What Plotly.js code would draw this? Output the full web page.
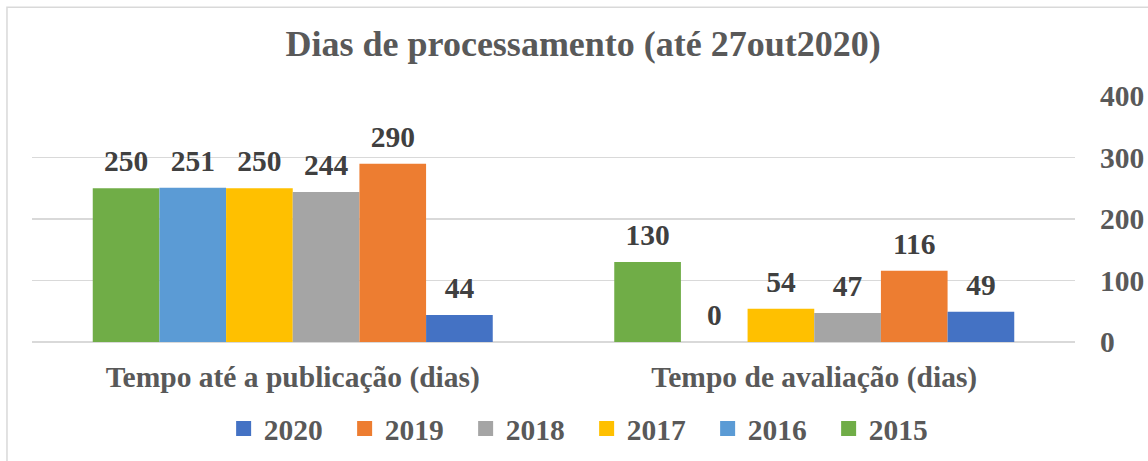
<!DOCTYPE html>
<html>
<head>
<meta charset="utf-8">
<script src="https://cdn.plot.ly/plotly-3.0.1.min.js"></script>
<style>html,body{margin:0;padding:0;background:#fff;}#chart{width:1148px;height:461px;}</style>
</head>
<body>
<div id="chart"></div>
<script>
const categories = ['Tempo até a publicação (dias)', 'Tempo de avaliação (dias)'];
const years = ['2015', '2016', '2017', '2018', '2019', '2020'];
const v2015 = [250, 130];
const v2016 = [251, 0];
const v2017 = [250, 54];
const v2018 = [244, 47];
const v2019 = [290, 116];
const v2020 = [44, 49];
const seriesValues = [v2015, v2016, v2017, v2018, v2019, v2020];
const colors = ['#70AD47', '#5B9BD5', '#FFC000', '#A5A5A5', '#ED7D31', '#4472C4'];
const yTicks = [0, 100, 200, 300, 400];

const FONT = 'Liberation Serif, Times New Roman, serif';

const traces = [];
years.forEach((yr, i) => {
  traces.push({
    type: 'bar',
    name: yr,
    x: categories,
    y: seriesValues[i],
    offsetgroup: 'g' + i,
    marker: {color: colors[i]},
    showlegend: false,
    hoverinfo: 'none'
  });
});
// data labels, grouped like the bars
years.forEach((yr, i) => {
  traces.push({
    type: 'scatter',
    mode: 'markers+text',
    name: yr,
    x: categories,
    y: seriesValues[i],
    offsetgroup: 'g' + i,
    text: seriesValues[i].map(String),
    textposition: 'top center',
    textfont: {family: FONT, size: 29.5, color: '#404040', weight: 'bold'},
    marker: {size: 14, color: 'rgba(0,0,0,0)'},
    cliponaxis: false,
    showlegend: false,
    hoverinfo: 'none'
  });
});
// legend entries (2020 first)
for (let i = years.length - 1; i >= 0; i--) {
  traces.push({
    type: 'scatter',
    mode: 'markers',
    name: years[i],
    x: [categories[0]],
    y: [null],
    offsetgroup: 'g' + i,
    marker: {symbol: 'square', size: 15, color: colors[i]},
    showlegend: true,
    hoverinfo: 'none'
  });
}

const layout = {
  width: 1148,
  height: 461,
  paper_bgcolor: '#ffffff',
  plot_bgcolor: '#ffffff',
  margin: {l: 32, r: 73, t: 96, b: 119},
  font: {family: FONT, color: '#595959'},
  title: {
    text: 'Dias de processamento (até 27out2020)',
    font: {family: FONT, size: 36, color: '#595959', weight: 'bold'},
    xref: 'container', x: 0.508, xanchor: 'center',
    yref: 'container', y: 0.905, yanchor: 'middle'
  },
  barmode: 'group',
  bargap: 0.233,
  bargroupgap: 0,
  scattermode: 'group',
  scattergap: 0.233,
  xaxis: {
    type: 'category',
    showgrid: false,
    showline: false,
    ticks: '',
    ticklabelstandoff: 14,
    tickfont: {family: FONT, size: 29.5, color: '#595959', weight: 'bold'}
  },
  yaxis: {
    side: 'right',
    range: [0, 400],
    tickvals: yTicks,
    ticktext: yTicks.map(String),
    showgrid: true,
    gridcolor: '#D9D9D9',
    gridwidth: 1.3,
    zeroline: true,
    zerolinecolor: '#D9D9D9',
    zerolinewidth: 1.3,
    showline: false,
    ticks: '',
    ticklabelstandoff: 24,
    tickfont: {family: FONT, size: 29.5, color: '#595959', weight: 'bold'}
  },
  legend: {
    orientation: 'h',
    xref: 'container', x: 0.511, xanchor: 'center',
    yref: 'container', y: 0.07, yanchor: 'middle',
    font: {family: FONT, size: 29.5, color: '#595959', weight: 'bold'},
    entrywidth: 76,
    entrywidthmode: 'pixels',
    bgcolor: 'rgba(0,0,0,0)'
  },
  shapes: [{
    type: 'rect', xref: 'paper', yref: 'paper', layer: 'below',
    x0: -0.024, x1: 1.2, y0: -0.7, y1: 1.3606,
    line: {color: '#D9D9D9', width: 1.5}, fillcolor: 'rgba(0,0,0,0)'
  }],
  hovermode: false
};

Plotly.newPlot('chart', traces, layout, {displayModeBar: false, staticPlot: true});
</script>
</body>
</html>
